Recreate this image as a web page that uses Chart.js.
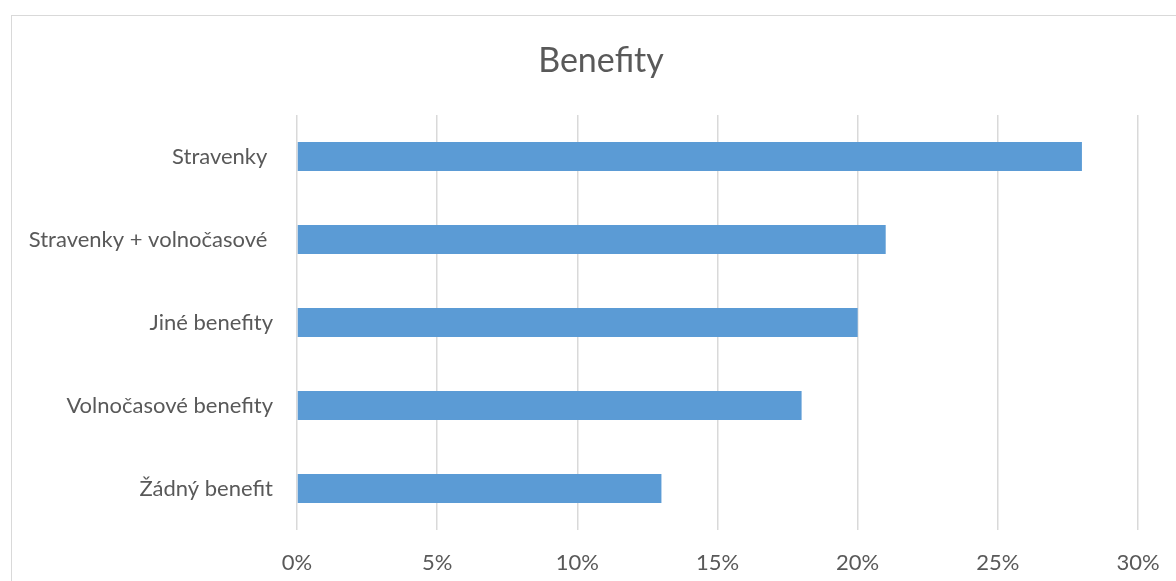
<!DOCTYPE html>
<html>
<head>
<meta charset="utf-8">
<script src="https://cdn.jsdelivr.net/npm/chart.js@4"></script>
<style>
  html, body { margin: 0; padding: 0; background: #fff; overflow: hidden; width: 1176px; height: 581px; }
  #wrap { position: absolute; left: 11px; top: 15px; width: 1178px; height: 600px; border: 1px solid #d9d9d9; box-sizing: border-box; }
  #box { position: absolute; left: 0; top: 0; width: 1178px; height: 566px; }
</style>
</head>
<body>
<div id="wrap"><div id="box"><canvas id="c"></canvas></div></div>
<script>
const categories = ["Stravenky ", "Stravenky + volnočasové ", "Jiné benefity", "Volnočasové benefity", "Žádný benefit"];
const values = [28, 21, 20, 18, 13];
const xTicks = [0, 5, 10, 15, 20, 25, 30];
const titleText = "Benefity";

const FONT = "Lato, 'Open Sans', sans-serif";
const TEXT = "#595959";

// Center the title over the whole chart frame, not only the padded layout box
const fullWidthTitle = {
  id: "fullWidthTitle",
  afterLayout(chart) {
    if (chart.titleBlock) {
      chart.titleBlock.left = 0;
      chart.titleBlock.right = chart.width;
    }
  }
};

new Chart(document.getElementById("c"), {
  type: "bar",
  data: {
    labels: categories,
    datasets: [{
      data: values,
      backgroundColor: "#5B9BD5",
      borderWidth: 0,
      barPercentage: 0.35,
      categoryPercentage: 1.0
    }]
  },
  plugins: [fullWidthTitle],
  options: {
    indexAxis: "y",
    responsive: true,
    maintainAspectRatio: false,
    animation: false,
    layout: { padding: { left: 0, right: 52, top: 0, bottom: 0 } },
    plugins: {
      legend: { display: false },
      tooltip: { enabled: false },
      title: {
        display: true,
        text: titleText,
        color: TEXT,
        font: { family: FONT, size: 34, weight: "normal", lineHeight: 1.2 },
        padding: { top: 24.6, bottom: 33.6 }
      }
    },
    scales: {
      x: {
        min: 0, max: 30,
        afterBuildTicks: (axis) => { axis.ticks = xTicks.map(v => ({ value: v })); },
        afterFit: (axis) => { axis.height = 52; },
        grid: { color: "#d9d9d9", lineWidth: 1.5, drawTicks: false },
        border: { display: false },
        ticks: {
          color: TEXT,
          font: { family: FONT, size: 22 },
          padding: 20,
          callback: (v) => v + "%"
        }
      },
      y: {
        afterFit: (axis) => { axis.width = 285; },
        grid: { display: false, drawTicks: false },
        border: { display: false },
        ticks: {
          color: TEXT,
          font: { family: FONT, size: 22 },
          padding: 24
        }
      }
    }
  }
});
</script>
</body>
</html>
